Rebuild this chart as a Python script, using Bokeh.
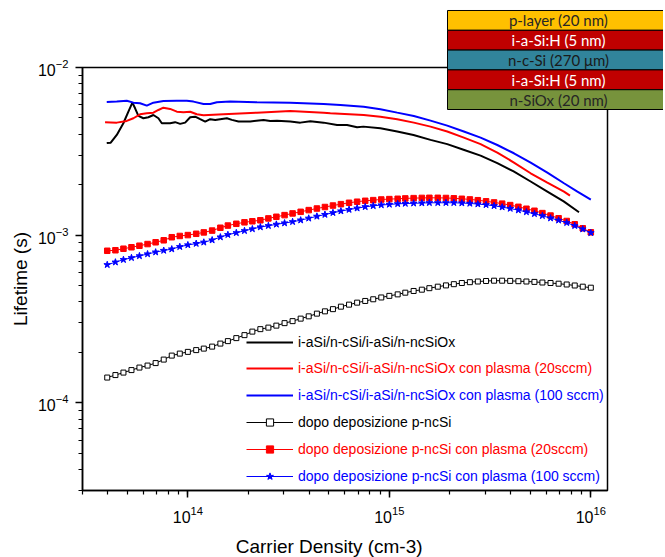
from bokeh.plotting import figure
from bokeh.models import Range1d, Legend, LegendItem, ColumnDataSource
from bokeh.core.properties import value
from bokeh.embed import file_html
from bokeh.resources import INLINE

# ---------------- data ----------------
n_grid = [3.98e13, 4.37e13, 4.79e13, 5.25e13, 5.75e13, 6.31e13, 6.92e13, 7.59e13, 8.32e13, 9.12e13,
          1.00e14, 1.10e14, 1.20e14, 1.32e14, 1.45e14, 1.58e14, 1.74e14, 1.91e14, 2.09e14, 2.29e14,
          2.51e14, 2.75e14, 3.02e14, 3.31e14, 3.63e14, 3.98e14, 4.37e14, 4.79e14, 5.25e14, 5.75e14,
          6.31e14, 6.92e14, 7.59e14, 8.32e14, 9.12e14, 1.00e15, 1.10e15, 1.20e15, 1.32e15, 1.45e15,
          1.58e15, 1.74e15, 1.91e15, 2.09e15, 2.29e15, 2.51e15, 2.75e15, 3.02e15, 3.31e15, 3.63e15,
          3.98e15, 4.37e15, 4.79e15, 5.25e15, 5.75e15, 6.31e15, 6.92e15, 7.59e15, 8.32e15, 9.12e15,
          1.00e16]

tau_dopo = [1.415e-4, 1.464e-4, 1.515e-4, 1.568e-4, 1.623e-4, 1.668e-4, 1.726e-4, 1.811e-4, 1.913e-4, 1.966e-4,
            2.013e-4, 2.063e-4, 2.106e-4, 2.164e-4, 2.256e-4, 2.334e-4, 2.432e-4, 2.534e-4, 2.659e-4, 2.751e-4,
            2.809e-4, 2.887e-4, 2.988e-4, 3.071e-4, 3.178e-4, 3.280e-4, 3.404e-4, 3.513e-4, 3.620e-4, 3.746e-4,
            3.851e-4, 3.958e-4, 4.051e-4, 4.146e-4, 4.250e-4, 4.345e-4, 4.435e-4, 4.539e-4, 4.647e-4, 4.730e-4,
            4.828e-4, 4.929e-4, 5.017e-4, 5.101e-4, 5.185e-4, 5.243e-4, 5.292e-4, 5.329e-4, 5.351e-4, 5.351e-4,
            5.336e-4, 5.314e-4, 5.292e-4, 5.264e-4, 5.220e-4, 5.185e-4, 5.135e-4, 5.079e-4, 5.010e-4, 4.929e-4,
            4.861e-4]

tau_dopo_20 = [8.07e-4, 8.13e-4, 8.30e-4, 8.47e-4, 8.65e-4, 8.85e-4, 9.07e-4, 9.32e-4, 9.72e-4, 9.89e-4,
               1.001e-3, 1.019e-3, 1.039e-3, 1.065e-3, 1.107e-3, 1.141e-3, 1.169e-3, 1.193e-3, 1.210e-3, 1.227e-3,
               1.259e-3, 1.287e-3, 1.317e-3, 1.348e-3, 1.378e-3, 1.411e-3, 1.442e-3, 1.472e-3, 1.502e-3, 1.531e-3,
               1.560e-3, 1.583e-3, 1.603e-3, 1.618e-3, 1.632e-3, 1.641e-3, 1.648e-3, 1.657e-3, 1.663e-3, 1.668e-3,
               1.670e-3, 1.670e-3, 1.666e-3, 1.659e-3, 1.648e-3, 1.634e-3, 1.616e-3, 1.592e-3, 1.568e-3, 1.542e-3,
               1.511e-3, 1.476e-3, 1.437e-3, 1.398e-3, 1.354e-3, 1.309e-3, 1.261e-3, 1.215e-3, 1.161e-3, 1.099e-3,
               1.040e-3]

tau_dopo_100 = [6.66e-4, 6.90e-4, 7.14e-4, 7.33e-4, 7.52e-4, 7.72e-4, 7.92e-4, 8.10e-4, 8.26e-4, 8.53e-4,
                8.74e-4, 8.91e-4, 9.07e-4, 9.35e-4, 9.74e-4, 1.006e-3, 1.033e-3, 1.062e-3, 1.089e-3, 1.118e-3,
                1.138e-3, 1.160e-3, 1.181e-3, 1.202e-3, 1.229e-3, 1.261e-3, 1.295e-3, 1.327e-3, 1.360e-3, 1.392e-3,
                1.421e-3, 1.448e-3, 1.476e-3, 1.496e-3, 1.513e-3, 1.525e-3, 1.538e-3, 1.544e-3, 1.550e-3, 1.554e-3,
                1.560e-3, 1.560e-3, 1.560e-3, 1.560e-3, 1.554e-3, 1.546e-3, 1.533e-3, 1.517e-3, 1.496e-3, 1.470e-3,
                1.442e-3, 1.411e-3, 1.375e-3, 1.341e-3, 1.305e-3, 1.264e-3, 1.227e-3, 1.186e-3, 1.138e-3, 1.087e-3,
                1.033e-3]

n_ref = [3.958e13, 4.143e13, 4.438e13, 4.786e13, 5.068e13, 5.306e13, 5.472e13, 5.682e13, 6.016e13, 6.370e13,
         6.745e13, 7.142e13, 7.426e13, 8.166e13, 8.647e13, 9.157e13, 9.696e13, 1.027e14, 1.087e14, 1.151e14,
         1.219e14, 1.291e14, 1.367e14, 1.447e14, 1.562e14, 1.654e14, 1.784e14, 2.040e14, 2.375e14, 2.564e14,
         2.769e14, 3.224e14, 3.615e14, 4.055e14, 4.720e14, 5.503e14, 6.171e14, 6.918e14, 7.434e14, 9.032e14,
         1.094e15, 1.318e15, 1.601e15, 1.938e15, 2.335e15, 2.837e15, 3.434e15, 4.139e15, 5.028e15, 6.085e15,
         7.334e15, 8.738e15]
tau_ref = [3.54e-3, 3.56e-3, 3.96e-3, 4.65e-3, 5.45e-3, 6.17e-3, 5.71e-3, 5.14e-3, 4.98e-3, 5.05e-3,
           5.21e-3, 4.98e-3, 4.65e-3, 4.65e-3, 4.72e-3, 4.61e-3, 4.69e-3, 5.05e-3, 5.09e-3, 4.92e-3,
           4.76e-3, 4.92e-3, 4.87e-3, 4.92e-3, 4.98e-3, 4.87e-3, 4.76e-3, 4.76e-3, 4.87e-3, 4.80e-3,
           4.82e-3, 4.76e-3, 4.69e-3, 4.78e-3, 4.69e-3, 4.54e-3, 4.54e-3, 4.40e-3, 4.44e-3, 4.34e-3,
           4.15e-3, 3.96e-3, 3.70e-3, 3.49e-3, 3.23e-3, 2.98e-3, 2.69e-3, 2.40e-3, 2.09e-3, 1.82e-3,
           1.59e-3, 1.37e-3]

n_p20 = [3.882e13, 4.438e13, 4.976e13, 5.366e13, 5.794e13, 6.256e13, 6.745e13, 7.142e13, 7.562e13, 8.166e13,
         8.818e13, 9.508e13, 1.027e14, 1.108e14, 1.196e14, 1.503e14, 2.203e14, 3.224e14, 4.720e14, 5.096e14,
         7.460e14, 9.032e14, 1.094e15, 1.323e15, 1.601e15, 1.938e15, 2.343e15, 2.837e15, 3.434e15, 4.153e15,
         5.028e15, 6.085e15, 7.359e15, 7.882e15]
tau_p20 = [4.72e-3, 4.69e-3, 4.80e-3, 4.98e-3, 5.26e-3, 5.34e-3, 5.38e-3, 5.58e-3, 5.76e-3, 5.66e-3,
           5.45e-3, 5.41e-3, 5.45e-3, 5.26e-3, 5.19e-3, 5.26e-3, 5.38e-3, 5.51e-3, 5.38e-3, 5.34e-3,
           5.21e-3, 5.09e-3, 4.92e-3, 4.69e-3, 4.44e-3, 4.15e-3, 3.82e-3, 3.49e-3, 3.11e-3, 2.71e-3,
           2.34e-3, 2.06e-3, 1.82e-3, 1.72e-3]

n_p100 = [3.958e13, 4.438e13, 4.976e13, 5.366e13, 5.794e13, 6.256e13, 6.745e13, 7.562e13, 8.818e13, 9.886e13,
          1.066e14, 1.196e14, 1.291e14, 1.393e14, 1.623e14, 2.203e14, 3.224e14, 4.720e14, 5.715e14, 7.460e14,
          9.032e14, 1.094e15, 1.323e15, 1.601e15, 1.938e15, 2.343e15, 2.837e15, 3.434e15, 4.153e15, 5.028e15,
          6.085e15, 7.359e15, 8.580e15, 1.000e16]
tau_p100 = [6.23e-3, 6.26e-3, 6.34e-3, 6.17e-3, 6.12e-3, 5.92e-3, 6.17e-3, 6.32e-3, 6.34e-3, 6.34e-3,
            6.26e-3, 6.06e-3, 6.06e-3, 6.21e-3, 6.26e-3, 6.21e-3, 6.17e-3, 6.06e-3, 5.98e-3, 5.84e-3,
            5.64e-3, 5.38e-3, 5.14e-3, 4.82e-3, 4.50e-3, 4.15e-3, 3.82e-3, 3.45e-3, 3.08e-3, 2.71e-3,
            2.36e-3, 2.04e-3, 1.82e-3, 1.63e-3]

series_labels = ["i-aSi/n-cSi/i-aSi/n-ncSiOx",
                 "i-aSi/n-cSi/i-aSi/n-ncSiOx con plasma (20sccm)",
                 "i-aSi/n-cSi/i-aSi/n-ncSiOx con plasma (100 sccm)",
                 "dopo deposizione p-ncSi",
                 "dopo deposizione p-ncSi con plasma (20sccm)",
                 "dopo deposizione p-ncSi con plasma (100 sccm)"]

layer_names = ["p-layer (20 nm)", "i-a-Si:H (5 nm)", "n-c-Si (270 \u03bcm)", "i-a-Si:H (5 nm)", "n-SiOx (20 nm)"]

# ---------------- styles ----------------
FONT = "Liberation Sans"
layer_fill = ["#FFC000", "#C00000", "#31849B", "#C00000", "#77933C"]
layer_text = ["#262626", "#FFFFFF", "#1A1A1A", "#FFFFFF", "#262626"]
label_colors = ["#000000", "#FF0000", "#0000FF", "#000000", "#FF0000", "#0000FF"]

p = figure(x_axis_type="log", y_axis_type="log", output_backend="svg", toolbar_location=None,
           frame_width=525, frame_height=423,
           min_border_left=82, min_border_right=56, min_border_top=67, min_border_bottom=60,
           x_range=Range1d(3e13, 1.21e16), y_range=Range1d(3e-5, 1e-2))
p.background_fill_color = "white"
p.border_fill_color = "white"
p.xgrid.visible = False
p.ygrid.visible = False
p.outline_line_color = "black"
p.outline_line_width = 1.5
p.outline_line_alpha = 1.0

for ax in (p.xaxis[0], p.yaxis[0]):
    ax.axis_line_width = 1.5
    ax.axis_line_color = "black"
    ax.major_tick_in = 0
    ax.major_tick_out = 7
    ax.minor_tick_in = 0
    ax.minor_tick_out = 4
    ax.major_tick_line_width = 1.5
    ax.minor_tick_line_width = 1.2
    ax.major_tick_line_color = "black"
    ax.minor_tick_line_color = "black"
    ax.major_label_text_font = FONT
    ax.major_label_text_font_size = "16px"
    ax.major_label_text_color = "black"
    ax.axis_label_text_font = FONT
    ax.axis_label_text_font_size = "19px"
    ax.axis_label_text_font_style = "normal"
    ax.axis_label_text_color = "black"
p.xaxis[0].major_label_standoff = 8
p.yaxis[0].major_label_standoff = 7
# trailing no-break spaces move the centred title a little left, as in the original
p.xaxis[0].axis_label = "Carrier Density (cm-3)" + "\u00a0" * 6
p.xaxis[0].axis_label_standoff = 10
p.yaxis[0].axis_label = "Lifetime (s)"
p.yaxis[0].axis_label_standoff = 4

r_ref = p.line(n_ref, tau_ref, line_color="black", line_width=2)
r_p20 = p.line(n_p20, tau_p20, line_color="#FF0000", line_width=2)
r_p100 = p.line(n_p100, tau_p100, line_color="#0000FF", line_width=2)

l_d = p.line(n_grid, tau_dopo, line_color="black", line_width=1)
s_d = p.scatter(n_grid, tau_dopo, marker="square", size=5, fill_color="white", line_color="black", line_width=1)
l_d20 = p.line(n_grid, tau_dopo_20, line_color="#FF0000", line_width=1)
s_d20 = p.scatter(n_grid, tau_dopo_20, marker="square", size=5.5, fill_color="#FF0000", line_color="#FF0000")
l_d100 = p.line(n_grid, tau_dopo_100, line_color="#0000FF", line_width=1)
s_d100 = p.scatter(n_grid, tau_dopo_100, marker="star", size=7, fill_color="#0000FF", line_color="#0000FF")

renderer_groups = [[r_ref], [r_p20], [r_p100], [l_d, s_d], [l_d20, s_d20], [l_d100, s_d100]]

for i, (lab, rends, col) in enumerate(zip(series_labels, renderer_groups, label_colors)):
    yc = 341.5 + 26.8 * i
    leg = Legend(items=[LegendItem(label=lab, renderers=rends)],
                 location=(164, 490 - yc - 9),
                 glyph_width=47, glyph_height=18, label_height=18,
                 label_standoff=5, padding=0, margin=0, spacing=0,
                 label_text_font=FONT, label_text_font_size="14px",
                 label_text_color=col,
                 border_line_color=None, background_fill_alpha=0)
    p.add_layout(leg)

# layer-stack drawing (top right): a small transparent figure laid over the main one
q = figure(frame_width=217, frame_height=101, output_backend="svg", toolbar_location=None,
           x_range=Range1d(-1, 216), y_range=Range1d(-0.05, 5.05),
           min_border_left=0, min_border_right=0, min_border_top=0, min_border_bottom=0,
           x_axis_location=None, y_axis_location=None)
q.title.visible = False
q.grid.visible = False
q.outline_line_color = None
q.background_fill_alpha = 0
q.border_fill_alpha = 0
q.styles = {"position": "absolute", "left": "446px", "top": "9px", "z-index": "10"}

n_layers = len(layer_names)
stack = ColumnDataSource(dict(
    bottom=[n_layers - 1 - i for i in range(n_layers)],
    top=[n_layers - i for i in range(n_layers)],
    mid=[n_layers - 0.5 - i for i in range(n_layers)],
    name=layer_names, fill=layer_fill, tcol=layer_text))
q.quad(left=0, right=400, bottom="bottom", top="top", source=stack,
       fill_color="fill", line_color="black", line_width=1)
q.text(x=111, y="mid", text="name", source=stack, text_color="tcol",
       text_align="center", text_baseline="middle",
       text_font=value("Lato"), text_font_size="15px")

open("out.html", "w").write(file_html([p, q], INLINE))
